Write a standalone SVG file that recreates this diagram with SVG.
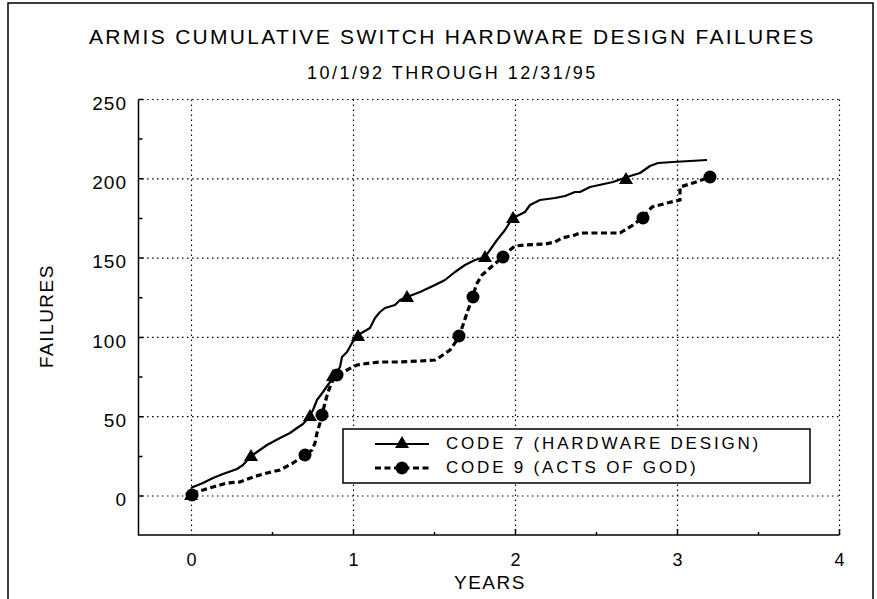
<svg xmlns="http://www.w3.org/2000/svg" width="877" height="599" viewBox="0 0 877 599">
<style>
text{font-family:"Liberation Sans",Arial,sans-serif;fill:#000}
.title{font-size:21px;letter-spacing:2.3px}
.sub{font-size:18px;letter-spacing:2.5px}
.ylab{font-size:19px;letter-spacing:1px;text-anchor:end}
.xlab{font-size:18px;text-anchor:middle}
.axt{font-size:19px;letter-spacing:1.5px}
.leg{font-size:17px;letter-spacing:2.8px}
.grid{stroke:#000;stroke-width:1.2;stroke-dasharray:1.5 3.5;fill:none}
.axis{stroke:#000;stroke-width:1.5;fill:none}
.s7{stroke:#000;stroke-width:2.2;fill:none;stroke-linejoin:round}
.s9{stroke:#000;stroke-width:3.2;fill:none;stroke-dasharray:6 3.5}
</style>
<defs>
<path id="tri" d="M0,-7 L7,5 L-7,5 Z" fill="#000"/>
<circle id="dot" r="6.5" fill="#000"/>
</defs>
<rect x="0" y="0" width="877" height="599" fill="#fff"/>
<path d="M8,599 L8,3 L873,3 L873,599" fill="none" stroke="#000" stroke-width="1.5"/>
<g id="titles">
<text class="title" x="89" y="44">ARMIS CUMULATIVE SWITCH HARDWARE DESIGN FAILURES</text>
<text class="sub" x="307" y="79">10/1/92 THROUGH 12/31/95</text>
</g>
<g id="grid">
<path class="grid" d="M142,99.5 H839.5 M142,178.8 H839.5 M142,258.1 H839.5 M142,337.4 H839.5 M142,416.7 H839.5 M142,496 H839.5"/>
<path class="grid" d="M191.5,99.5 V535 M353.5,99.5 V535 M515.5,99.5 V535 M677.5,99.5 V535 M839.5,99.5 V535"/>
</g>
<g id="axes">
<path class="axis" d="M138.5,99.5 V535 H839.5"/>
<path class="axis" d="M138.5,99.5 h5 M138.5,139 h4 M138.5,178.8 h5 M138.5,218.5 h4 M138.5,258.1 h5 M138.5,297.8 h4 M138.5,337.4 h5 M138.5,377 h4 M138.5,416.7 h5 M138.5,456.4 h4 M138.5,496 h5"/>
<path class="axis" d="M272.5,535 v-3 M353.5,535 v-6 M434.5,535 v-3 M515.5,535 v-6 M596.5,535 v-3 M677.5,535 v-6 M758.5,535 v-3 M839.5,535 v-6" stroke-width="2"/>
</g>
<g id="ylabels">
<text class="ylab" x="127" y="110">250</text>
<text class="ylab" x="127" y="189">200</text>
<text class="ylab" x="127" y="268">150</text>
<text class="ylab" x="127" y="348">100</text>
<text class="ylab" x="127" y="427">50</text>
<text class="ylab" x="127" y="506">0</text>
<text class="axt" transform="translate(53,316) rotate(-90)" text-anchor="middle">FAILURES</text>
</g>
<g id="xlabels">
<text class="xlab" x="191.5" y="566">0</text>
<text class="xlab" x="353.5" y="566">1</text>
<text class="xlab" x="515.5" y="566">2</text>
<text class="xlab" x="677.5" y="566">3</text>
<text class="xlab" x="839.5" y="566">4</text>
<text class="axt" x="454" y="589">YEARS</text>
</g>
<g id="connectors">
<path id="code7" class="s7" d="M191,488 L193,487 L203,483 L213,478 L223,474 L237,469 L243,465 L250,457 L257,452 L267,445 L280,438 L290,433 L297,428 L303,424 L309,417 L313,410 L317,400 L323,392 L330,382 L335,376 L340,367 L342,357 L347,352 L352,343 L358,335 L370,328 L375,318 L380,312 L385,308 L395,305 L400,300 L407,297 L420,292 L435,285 L445,280 L455,272 L465,265 L475,260 L485,257 L490,250 L497,240 L505,230 L510,222 L513,218 L525,212 L530,205 L540,200 L555,198 L565,196 L575,192 L580,192 L590,187 L613,182 L627,177 L640,173 L650,166 L658,163 L673,162 L707,160"/>
<path id="code9" class="s9" d="M192,493 L203,490 L213,487 L227,483 L240,482 L253,477 L267,473 L280,470 L293,463 L305,455 L312,450 L315,443 L317,433 L320,423 L322,415 L325,403 L328,392 L332,382 L337,375 L347,370 L357,365 L370,363 L380,362 L400,362 L420,361 L435,360 L440,357 L450,350 L455,343 L459,336 L463,325 L468,310 L473,297 L476,285 L482,275 L490,268 L497,262 L503,257 L510,250 L515,246 L525,245 L545,244 L555,242 L562,238 L575,235 L580,233 L620,233 L633,225 L643,217 L652,207 L667,203 L680,200 L680,187 L693,183 L710,177"/>
</g>
<g id="markers7">
<use href="#tri" x="191" y="495"/>
<use href="#tri" x="251" y="456"/>
<use href="#tri" x="310" y="416"/>
<use href="#tri" x="333" y="376"/>
<use href="#tri" x="358" y="336"/>
<use href="#tri" x="407" y="297"/>
<use href="#tri" x="485" y="257"/>
<use href="#tri" x="513" y="218"/>
<use href="#tri" x="626" y="179"/>
</g>
<g id="markers9">
<use href="#dot" x="192" y="495"/>
<use href="#dot" x="305" y="455"/>
<use href="#dot" x="322" y="415"/>
<use href="#dot" x="337" y="375"/>
<use href="#dot" x="459" y="336"/>
<use href="#dot" x="473" y="297"/>
<use href="#dot" x="503" y="257"/>
<use href="#dot" x="643" y="218"/>
<use href="#dot" x="710" y="177"/>
</g>
<g id="legend">
<rect x="343" y="429" width="467" height="54" fill="#fff" stroke="#000" stroke-width="1.5"/>
<path d="M375,444 H429" class="s7" stroke-width="3"/>
<use href="#tri" x="402" y="443"/>
<text class="leg" x="446" y="449">CODE 7 (HARDWARE DESIGN)</text>
<path d="M375,468 H429" class="s9"/>
<use href="#dot" x="402" y="468"/>
<text class="leg" x="446" y="473">CODE 9 (ACTS OF GOD)</text>
</g>
</svg>
